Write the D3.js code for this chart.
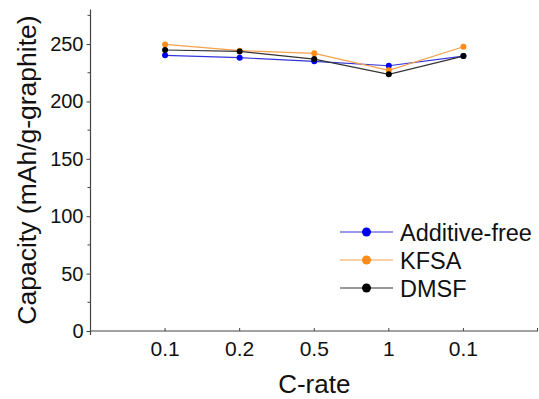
<!DOCTYPE html>
<html><head><meta charset="utf-8">
<script src="https://cdn.jsdelivr.net/npm/d3@7"></script>
<style>body{margin:0;background:#fff}svg{display:block;font-family:"Liberation Sans",Arial,sans-serif}</style>
</head><body><svg id="c" width="539" height="399"></svg>
<script>
const categories = ["0.1","0.2","0.5","1","0.1"];
const seriesNames = ["Additive-free","KFSA","DMSF"];
const seriesColors = ["#0000f0","#ff8c1a","#000000"];
const lineColors = ["#3333dd","#f5a04a","#333333"];
const additiveFree = [240.2,238.1,234.9,231.1,239.5];
const kfsa = [249.7,244.2,241.9,227.1,247.6];
const dmsf = [244.8,243.6,236.9,223.6,239.5];
const yTicks = [0,50,100,150,200,250];
const yMinor = [25,75,125,175,225,275];

const series = [additiveFree,kfsa,dmsf];
const svg = d3.select("#c");
const x = d3.scaleLinear().domain([0,6]).range([90.5,538]);
const y = d3.scaleLinear().domain([0,280]).range([331,9.6]);
const axisColor = "#444";

// x axis
const gx = svg.append("g");
gx.append("line").attr("x1",x(0)).attr("x2",x(6)).attr("y1",y(0)).attr("y2",y(0)).attr("stroke",axisColor).attr("stroke-width",1.2);
categories.forEach((c,i)=>{
  gx.append("line").attr("x1",x(i+1)).attr("x2",x(i+1)).attr("y1",y(0)).attr("y2",y(0)-3).attr("stroke",axisColor);
  gx.append("text").attr("x",x(i+1)).attr("y",356).attr("text-anchor","middle").attr("font-size",21).attr("fill","#111").text(c);
});
gx.append("line").attr("x1",x(6)-0.5).attr("x2",x(6)-0.5).attr("y1",y(0)).attr("y2",y(0)-3).attr("stroke",axisColor);

// y axis
const gy = svg.append("g").attr("transform",`translate(${x(0)},0)`);
gy.call(d3.axisLeft(y).tickValues(yTicks).tickSize(4).tickSizeOuter(0).tickPadding(3));
gy.selectAll("path").attr("stroke",axisColor).attr("stroke-width",1.2).attr("d",`M0,${y(0)+4}V${y(280)}`);
gy.selectAll(".tick line").attr("stroke",axisColor);
gy.selectAll(".tick text").attr("font-size",20).attr("fill","#111").attr("font-family","Liberation Sans, Arial, sans-serif");
yMinor.forEach(v=>{
  gy.append("line").attr("x1",-3).attr("x2",0).attr("y1",y(v)).attr("y2",y(v)).attr("stroke",axisColor);
});

// titles
svg.append("text").attr("x",x(3)).attr("y",393).attr("text-anchor","middle").attr("font-size",26).attr("fill","#111").text("C-rate");
svg.append("text").attr("transform",`translate(36,${(y(0)+9)/2}) rotate(-90)`).attr("text-anchor","middle").attr("font-size",26.5).attr("fill","#111").text("Capacity (mAh/g-graphite)");

// series
const line = d3.line().x((d,i)=>x(i+1)).y(d=>y(d));
series.forEach((s,k)=>{
  svg.append("path").datum(s).attr("d",line).attr("fill","none").attr("stroke",lineColors[k]).attr("stroke-width",1.2);
  svg.append("g").selectAll("circle").data(s).join("circle")
    .attr("cx",(d,i)=>x(i+1)).attr("cy",d=>y(d)).attr("r",3).attr("fill",seriesColors[k]);
});

// legend
const lg = svg.append("g");
seriesNames.forEach((n,k)=>{
  const yy = 232 + k*28;
  lg.append("line").attr("x1",340).attr("x2",393).attr("y1",yy).attr("y2",yy).attr("stroke",lineColors[k]).attr("stroke-width",1.2);
  lg.append("circle").attr("cx",366.5).attr("cy",yy).attr("r",4.5).attr("fill",seriesColors[k]);
  lg.append("text").attr("x",400).attr("y",yy+8.5).attr("font-size",23.5).attr("fill","#111").text(n);
});
</script></body></html>
